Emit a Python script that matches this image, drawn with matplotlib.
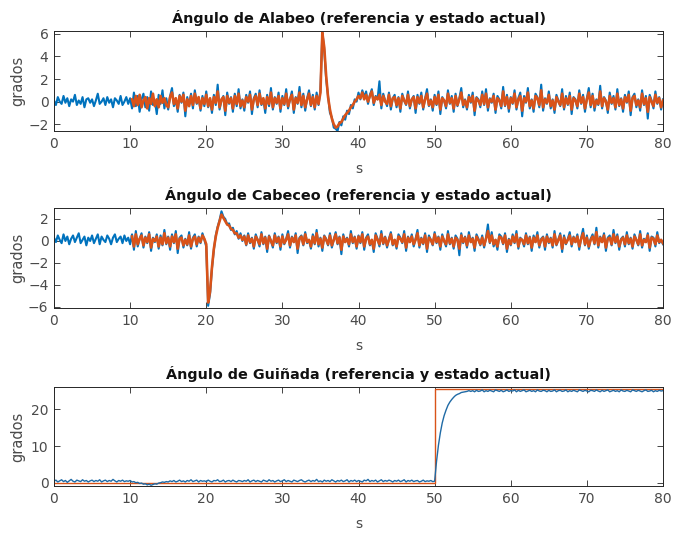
import numpy as np
import matplotlib
matplotlib.use("Agg")
import matplotlib.pyplot as plt

plt.rcParams['font.family'] = ['DejaVu Sans']

DT = 0.25  # sample period of the logged signals (s)

# ---- Roll (alabeo) -------------------------------------------------------
roll_state_t0 = 0.0
roll_state = [
    0.1, -0.3, 0.4, 0.0, -0.2, 0.5, -0.1, 0.3, -0.4, 0.2, 0.0, 0.6, -0.3, 0.1, -0.2, 0.4, -0.5, 0.2, 0.3, -0.1,
    0.2, -0.4, 0.1, 0.7, -0.2, 0.0, 0.3, -0.3, 0.4, -0.1, 0.2, -0.5, 0.3, 0.1, -0.2, 0.5, -0.3, 0.0, 0.4, -0.2,
    0.3, -0.6, 0.8, -0.4, 0.5, -0.9, 0.2, 0.7, -0.5, 0.4, -0.8, 0.9, -0.3, 0.1, -1.1, 0.6, -0.2, 1.0, -0.6, 0.3,
    -0.7, 0.5, 1.2, -0.4, 0.2, -0.9, 0.6, -0.1, 0.8, -1.3, 0.4, -0.3, 0.7, -0.6, 1.0, -0.2, 0.3, -0.8, 0.5, -0.4,
    0.9, -0.5, 0.2, -1.0, 0.6, -0.3, 1.5, -0.7, 0.1, 0.5, -1.2, 0.8, -0.2, 0.4, -0.9, 0.7, -0.4, 1.1, -0.6, 0.2,
    -0.8, 0.6, -0.1, 0.9, -1.1, 0.3, 0.7, -0.5, 1.0, -0.3, 0.2, -1.0, 0.6, -0.4, 1.2, -0.7, 0.4, -0.2, 0.8, -0.9,
    0.5, -0.3, 1.1, -0.6, 0.2, 0.9, -1.0, 0.4, -0.2, 1.3, -0.5, 0.7, -0.8, 0.3, 1.0, -0.4, 0.6, -0.7, 0.8, -0.3,
    1.0, 6.2, 4.6, 2.0, 0.5, -1.0, -1.4, -2.3, -2.4, -2.6, -1.8, -2.1, -1.3, -1.6, -0.8, -1.1, -0.3, -0.6, 0.2, 0.0,
    0.8, 0.2, 1.0, 0.4, 0.9, -0.2, 0.6, 1.1, -0.3, 0.5, 0.2, 1.8, -0.6, 0.7, 0.1, -0.4, 0.8, -0.7, 0.3, 0.6,
    -0.5, 0.4, -0.9, 0.7, 0.1, -0.3, 0.9, -0.6, 0.2, 0.5, -1.0, 0.6, -0.2, 0.8, -0.7, 0.3, 1.1, -0.4, 0.2, -0.8,
    0.6, -0.3, 0.9, -1.1, 0.4, 0.1, -0.6, 1.0, -0.2, 0.5, -0.9, 0.7, -0.4, 0.3, 1.2, -0.5, 0.2, -0.7, 0.6, -0.1,
    0.8, -1.2, 0.4, 0.2, -0.5, 0.9, -0.3, 1.1, -0.8, 0.3, -0.1, 0.7, -1.0, 0.5, 0.2, -0.6, 1.3, -0.4, 0.6, -0.9,
    0.4, -0.2, 1.0, -0.7, 0.3, 0.8, -1.3, 0.5, -0.1, 1.2, -0.6, 0.2, -0.9, 0.7, 0.4, -0.5, 1.5, -0.8, 0.3, -0.2,
    0.9, -0.6, 0.2, -1.0, 0.6, 0.1, -0.4, 1.1, -0.7, 0.5, -0.3, 0.8, -1.1, 0.4, 0.2, -0.6, 1.0, -0.2, 0.6, -0.9,
    0.3, 1.2, -0.5, 0.7, -0.8, 0.2, -0.3, 1.4, -0.6, 0.4, 0.1, -1.0, 0.8, -0.2, 0.5, -0.7, 1.1, -0.4, 0.3, -0.9,
    0.6, -0.1, 0.9, -1.2, 0.4, 0.7, -0.5, 0.2, -0.8, 1.0, -0.3, 0.5, -1.5, 0.6, 0.1, -0.6, 0.9, -0.2, 0.4, -0.7,
    0.2,
]
roll_ref_t0 = 10.25
roll_ref = [
    0.2, -0.4, 0.5, -0.3, 0.6, -0.5, 0.1, 0.4, -0.6, 0.3, -0.2, 0.7, -0.4, 0.2, -0.5, 0.5, -0.1, 0.3, -0.3,
    -0.5, 0.4, 0.8, -0.2, 0.3, -0.6, 0.5, 0.0, 0.6, -0.8, 0.2, -0.4, 0.5, -0.3, 0.7, -0.1, 0.4, -0.6, 0.3, -0.2,
    0.6, -0.4, 0.3, -0.7, 0.4, -0.1, 0.9, -0.5, 0.2, 0.4, -0.8, 0.5, -0.1, 0.3, -0.6, 0.5, -0.2, 0.7, -0.4, 0.1,
    -0.5, 0.4, 0.0, 0.6, -0.7, 0.2, 0.5, -0.3, 0.7, -0.2, 0.3, -0.6, 0.4, -0.2, 0.8, -0.5, 0.3, -0.1, 0.5, -0.6,
    0.3, -0.2, 0.7, -0.4, 0.2, 0.6, -0.7, 0.3, -0.1, 0.8, -0.3, 0.5, -0.5, 0.2, 0.7, -0.3, 0.4, -0.5, 0.5, -0.2,
    0.8, 6.1, 4.8, 2.3, 0.4, -0.7, -1.5, -2.0, -2.3, -2.2, -1.9, -1.8, -1.5, -1.2, -1.0, -0.8, -0.5, -0.3, 0.0, 0.2,
    0.5, 0.3, 0.8, 0.2, 0.6, 0.0, 0.5, 0.9, -0.1, 0.4, 0.2, 0.6, -0.3, 0.5, 0.0, -0.2, 0.6, -0.4, 0.3, 0.4,
    -0.3, 0.3, -0.6, 0.5, 0.1, -0.2, 0.6, -0.4, 0.2, 0.4, -0.6, 0.4, -0.1, 0.5, -0.5, 0.2, 0.7, -0.3, 0.1, -0.5,
    0.4, -0.2, 0.6, -0.7, 0.3, 0.1, -0.4, 0.7, -0.1, 0.3, -0.6, 0.5, -0.3, 0.2, 0.8, -0.3, 0.1, -0.5, 0.4, 0.0,
    0.5, -0.8, 0.3, 0.1, -0.3, 0.6, -0.2, 0.7, -0.5, 0.2, 0.0, 0.5, -0.7, 0.3, 0.1, -0.4, 0.9, -0.3, 0.4, -0.6,
    0.3, -0.1, 0.7, -0.5, 0.2, 0.5, -0.8, 0.3, 0.0, 0.8, -0.4, 0.1, -0.6, 0.5, 0.3, -0.3, 1.0, -0.5, 0.2, -0.1,
    0.6, -0.4, 0.1, -0.7, 0.4, 0.0, -0.3, 0.7, -0.5, 0.3, -0.2, 0.5, -0.7, 0.3, 0.1, -0.4, 0.7, -0.1, 0.4, -0.6,
    0.2, 0.8, -0.3, 0.5, -0.5, 0.1, -0.2, 0.9, -0.4, 0.3, 0.0, -0.7, 0.5, -0.1, 0.3, -0.5, 0.7, -0.3, 0.2, -0.6,
    0.4, 0.0, 0.6, -0.8, 0.3, 0.5, -0.3, 0.1, -0.5, 0.7, -0.2, 0.3, -0.9, 0.4, 0.0, -0.4, 0.6, -0.1, 0.3, -0.5,
    0.1,
]

# ---- Pitch (cabeceo) -----------------------------------------------------
pitch_state_t0 = 0.0
pitch_state = [
    0.3, -0.1, 0.5, 0.1, -0.2, 0.6, 0.0, 0.4, -0.3, 0.2, 0.5, -0.1, 0.3, 0.7, -0.2, 0.1, 0.4, -0.4, 0.3, 0.0,
    0.5, -0.2, 0.2, 0.6, -0.3, 0.4, 0.1, -0.1, 0.5, 0.2, -0.3, 0.3, 0.6, -0.1, 0.2, 0.4, -0.2, 0.5, 0.0, 0.3,
    -0.3, 0.6, -0.8, 0.9, -0.5, 0.2, 0.7, -0.6, 0.4, -0.2, 0.8, -0.9, 0.3, -0.1, 0.6, -0.7, 0.5, -0.4, 1.0, -0.3,
    0.4, -0.8, 0.6, -0.2, 0.9, -1.1, 0.3, 0.5, -0.6, 0.2, -0.4, 0.8, -0.7, 0.3, 0.6, -0.5, 0.4, -0.2, 0.7, 0.1,
    -0.5, -5.9, -4.8, -2.5, -0.8, 0.5, 1.3, 1.9, 2.7, 2.2, 2.0, 1.5, 1.6, 1.0, 1.2, 0.6, 0.9, 0.2, 0.7, 0.0,
    0.5, -0.4, 0.7, -0.2, 0.3, -0.7, 0.6, 0.1, -0.5, 0.8, -0.3, 0.4, -1.0, 0.5, 0.0, -0.6, 0.7, -0.2, 0.4, -0.8,
    0.6, -0.3, 0.2, 0.9, -0.6, 0.4, -0.1, 0.7, -1.1, 0.3, 0.5, -0.4, 0.8, -0.2, 0.1, -0.7, 0.6, -0.3, 1.0, -0.5,
    0.3, -0.9, 0.5, 0.2, -0.4, 0.7, -0.6, 0.1, 0.8, -0.3, 0.4, -1.2, 0.6, -0.1, 0.3, -0.5, 0.9, -0.2, 0.4, -0.7,
    0.5, -0.2, 0.8, -0.8, 0.3, 0.6, -0.4, 0.1, -1.0, 0.7, 0.2, -0.5, 0.9, -0.3, 0.4, -0.6, 0.2, 0.8, -0.4, 0.1,
    -0.7, 0.6, 0.3, -0.2, 0.9, -0.9, 0.4, -0.1, 0.6, -0.5, 0.2, 1.0, -0.6, 0.3, -0.3, 0.7, -1.0, 0.5, 0.1, -0.4,
    0.8, -0.2, 0.4, -0.8, 0.6, 0.0, -0.5, 0.9, -0.3, 0.3, -0.7, 0.5, 0.2, -1.3, 0.7, -0.2, 0.4, -0.6, 0.8, -0.1,
    0.3, -0.9, 0.6, 0.2, -0.4, 0.5, -0.6, 0.3, 1.5, -0.2, 0.8, -0.5, 0.1, -0.8, 0.6, 0.4, -0.3, 0.7, -1.0, 0.2,
    -0.4, 0.6, -0.2, 0.9, -0.7, 0.3, 0.1, -0.5, 0.7, -0.3, 0.4, -0.9, 0.5, -0.1, 0.8, -0.6, 0.2, 0.4, -0.8, 0.6,
    -0.2, 0.3, -0.6, 0.9, -0.4, 0.1, 0.7, -1.0, 0.5, -0.3, 0.2, 0.8, -0.5, 0.4, -0.1, 0.6, -0.8, 0.3, 1.1, -0.4,
    0.5, -0.7, 0.2, 0.6, -0.3, 1.2, -0.6, 0.4, -0.1, 0.7, -0.9, 0.3, 0.5, -0.4, 1.0, -0.2, 0.6, -0.8, 0.2, 0.4,
    -0.5, 0.8, -0.3, 0.3, -0.7, 0.6, 0.1, -0.4, 0.9, -0.6, 0.2, -0.1, 0.7, -0.9, 0.4, 0.3, -0.5, 0.8, -0.2, 0.1,
    -0.3,
]
pitch_ref_t0 = 10.25
pitch_ref = [
    0.4, -0.5, 0.6, -0.3, 0.2, 0.5, -0.4, 0.3, -0.1, 0.6, -0.6, 0.2, 0.0, 0.4, -0.5, 0.3, -0.3, 0.7, -0.2,
    0.3, -0.5, 0.4, -0.1, 0.6, -0.7, 0.2, 0.3, -0.4, 0.1, -0.3, 0.5, -0.5, 0.2, 0.4, -0.3, 0.3, -0.1, 0.5, 0.2,
    -0.3, -5.6, -4.6, -2.4, -0.7, 0.4, 1.2, 1.8, 2.4, 2.1, 1.8, 1.5, 1.4, 1.1, 1.0, 0.7, 0.7, 0.3, 0.5, 0.1,
    0.4, -0.3, 0.5, -0.1, 0.2, -0.5, 0.4, 0.1, -0.3, 0.6, -0.2, 0.3, -0.7, 0.4, 0.0, -0.4, 0.5, -0.1, 0.3, -0.5,
    0.4, -0.2, 0.1, 0.6, -0.4, 0.3, -0.1, 0.5, -0.7, 0.2, 0.4, -0.3, 0.6, -0.1, 0.1, -0.5, 0.4, -0.2, 0.7, -0.3,
    0.2, -0.6, 0.4, 0.1, -0.3, 0.5, -0.4, 0.1, 0.6, -0.2, 0.3, -0.8, 0.4, -0.1, 0.2, -0.3, 0.6, -0.1, 0.3, -0.5,
    0.4, -0.1, 0.6, -0.5, 0.2, 0.4, -0.3, 0.1, -0.7, 0.5, 0.1, -0.3, 0.6, -0.2, 0.3, -0.4, 0.1, 0.6, -0.3, 0.1,
    -0.5, 0.4, 0.2, -0.1, 0.6, -0.6, 0.3, -0.1, 0.4, -0.3, 0.1, 0.7, -0.4, 0.2, -0.2, 0.5, -0.7, 0.3, 0.1, -0.3,
    0.6, -0.1, 0.3, -0.5, 0.4, 0.0, -0.3, 0.6, -0.2, 0.2, -0.5, 0.3, 0.1, -0.7, 0.5, -0.1, 0.3, -0.4, 0.5, -0.1,
    0.2, -0.6, 0.4, 0.1, -0.3, 0.3, -0.4, 0.2, 0.9, -0.1, 0.5, -0.3, 0.1, -0.5, 0.4, 0.3, -0.2, 0.5, -0.7, 0.1,
    -0.3, 0.4, -0.1, 0.6, -0.5, 0.2, 0.1, -0.3, 0.5, -0.2, 0.3, -0.6, 0.3, -0.1, 0.5, -0.4, 0.1, 0.3, -0.5, 0.4,
    -0.1, 0.2, -0.4, 0.6, -0.3, 0.1, 0.5, -0.7, 0.3, -0.2, 0.1, 0.5, -0.3, 0.3, -0.1, 0.4, -0.5, 0.2, 0.7, -0.3,
    0.3, -0.5, 0.1, 0.4, -0.2, 0.8, -0.4, 0.3, -0.1, 0.5, -0.6, 0.2, 0.3, -0.3, 0.6, -0.1, 0.4, -0.5, 0.1, 0.3,
    -0.3, 0.5, -0.2, 0.2, -0.5, 0.4, 0.1, -0.3, 0.6, -0.4, 0.1, -0.1, 0.5, -0.6, 0.3, 0.2, -0.3, 0.5, -0.1, 0.1,
    -0.2,
]

# ---- Yaw (guiñada) -------------------------------------------------------
yaw_state_t0 = 0.0
yaw_state = [
    0.4, 0.7, 0.2, 0.5, 0.8, 0.3, 0.6, 0.1, 0.5, 0.9, 0.4, 0.2, 0.7, 0.5, 0.3, 0.8, 0.4, 0.6, 0.2, 0.5,
    0.7, 0.3, 0.6, 0.4, 0.8, 0.2, 0.5, 0.7, 0.3, 0.6, 0.4, 0.9, 0.5, 0.2, 0.6, 0.4, 0.7, 0.3, 0.5, 0.4,
    0.6, 0.2, 0.3, 0.0, 0.1, -0.2, -0.1, -0.4, -0.3, -0.6, -0.4, -0.7, -0.5, -0.3, -0.4, -0.1, 0.0, 0.2, 0.1, 0.3,
    0.2, 0.5, 0.3, 0.6, 0.2, 0.4, 0.7, 0.3, 0.5, 0.2, 0.6, 0.4, 0.8, 0.3, 0.5, 0.7, 0.2, 0.6, 0.4, 0.5,
    0.3, 0.7, 0.4, 0.2, 0.6, 0.5, 0.8, 0.3, 0.4, 0.7, 0.2, 0.5, 0.6, 0.3, 0.7, 0.4, 0.2, 0.6, 0.5, 0.3,
    0.6, 0.4, 0.8, 0.2, 0.5, 0.7, 0.3, 0.6, 0.4, 0.2, 0.7, 0.5, 0.3, 0.8, 0.4, 0.6, 0.2, 0.5, 0.7, 0.3,
    0.5, 0.8, 0.3, 0.6, 0.4, 0.2, 0.7, 0.5, 0.3, 0.6, 0.8, 0.4, 0.2, 0.5, 0.7, 0.3, 0.6, 0.4, 0.9, 0.3,
    0.5, 0.2, 0.7, 0.4, 0.6, 0.3, 0.8, 0.5, 0.2, 0.6, 0.4, 0.7, 0.3, 0.5, 0.8, 0.2, 0.6, 0.4, 0.7, 0.3,
    0.6, 0.4, 0.2, 0.7, 0.5, 0.9, 0.3, 0.6, 0.4, 0.7, 0.2, 0.5, 0.8, 0.3, 0.6, 0.4, 0.7, 0.5, 0.2, 0.6,
    0.4, 0.7, 0.3, 0.5, 0.8, 0.2, 0.6, 0.4, 0.7, 0.3, 0.5, 0.6, 0.2, 0.4, 0.7, 0.3, 0.5, 0.4, 0.6, 0.3,
    0.4, 5.8, 10.2, 13.6, 16.3, 18.3, 19.8, 21.1, 22.0, 22.7, 23.3, 23.8, 24.1, 24.3, 24.6, 24.7, 24.8, 24.9, 25.1, 24.9,
    25.1, 24.8, 25.2, 24.9, 25.0, 25.3, 24.8, 25.1, 24.9, 25.2, 25.0, 24.8, 25.3, 25.1, 24.9, 25.2, 24.8, 25.0, 25.3, 24.9,
    25.1, 25.0, 25.3, 24.8, 25.2, 24.9, 25.1, 25.3, 24.8, 25.0, 25.2, 24.9, 25.1, 24.8, 25.3, 25.0, 24.9, 25.2, 25.1, 24.8,
    25.2, 24.9, 25.0, 25.3, 24.8, 25.1, 25.2, 24.9, 25.0, 25.3, 24.8, 25.1, 24.9, 25.2, 25.0, 24.8, 25.3, 25.1, 24.9, 25.2,
    25.0, 24.8, 25.2, 25.1, 24.9, 25.3, 25.0, 24.8, 25.2, 24.9, 25.1, 25.3, 24.8, 25.0, 25.2, 24.9, 25.1, 24.8, 25.3, 25.0,
    24.9, 25.2, 25.0, 24.8, 25.3, 25.1, 24.9, 25.2, 25.0, 24.8, 25.1, 25.3, 24.9, 25.0, 25.2, 24.8, 25.1, 24.9, 25.2, 25.0,
    25.1,
]
# step reference: 0 until 50 s, then 25.5 degrees
yaw_ref_t = [0.0, 50.0, 50.0, 80.0]
yaw_ref = [0.0, 0.0, 25.5, 25.5]

titles = [
    "Ángulo de Alabeo (referencia y estado actual)",
    "Ángulo de Cabeceo (referencia y estado actual)",
    "Ángulo de Guiñada (referencia y estado actual)",
]
x_ticks = [0, 10, 20, 30, 40, 50, 60, 70, 80]
roll_yticks = [-2, 0, 2, 4, 6]
pitch_yticks = [-6, -4, -2, 0, 2]
yaw_yticks = [0, 10, 20]

BLUE = "#0072BD"
ORANGE = "#D95319"
AXCOL = "#262626"
TXTCOL = "#4a4a4a"


def times(t0, vals):
    return t0 + DT * np.arange(len(vals))


fig = plt.figure(figsize=(6.75, 5.36), dpi=100)
W, H = 675.0, 536.0
left, right = 54, 663
boxes = [(31, 131), (208, 308), (387, 486)]
ylims = [(-2.6, 6.25), (-6.1, 3.0), (-0.9, 26.1)]
yticks_all = [roll_yticks, pitch_yticks, yaw_yticks]

axes = []
for (top, bot) in boxes:
    ax = fig.add_axes([left / W, 1 - bot / H, (right - left) / W, (bot - top) / H])
    axes.append(ax)

# roll
ax = axes[0]
ax.plot(times(roll_state_t0, roll_state), roll_state, color=BLUE, lw=1.5)
ax.plot(times(roll_ref_t0, roll_ref), roll_ref, color=ORANGE, lw=1.9)
# pitch
ax = axes[1]
ax.plot(times(pitch_state_t0, pitch_state), pitch_state, color=BLUE, lw=1.5)
ax.plot(times(pitch_ref_t0, pitch_ref), pitch_ref, color=ORANGE, lw=1.9)
# yaw
ax = axes[2]
ax.plot(yaw_ref_t, yaw_ref, color=ORANGE, lw=1.0)
ax.plot(times(yaw_state_t0, yaw_state), yaw_state, color="#1f6aa5", lw=1.0)

for ax, title, yl, yt in zip(axes, titles, ylims, yticks_all):
    ax.set_xlim(0, 80)
    ax.set_ylim(*yl)
    ax.set_xticks(x_ticks)
    ax.set_yticks(yt)
    ax.set_title(title, fontsize=10.4, fontweight="bold", color="#111111", pad=6)
    ax.set_xlabel("s", fontsize=10, color=TXTCOL, labelpad=8)
    ax.set_ylabel("grados", fontsize=10.5, color=TXTCOL)
    ax.yaxis.set_label_coords(-0.047, 0.5)
    ax.tick_params(direction="in", length=4, width=0.6, top=True, right=True,
                   labelsize=10, colors=AXCOL, labelcolor=TXTCOL, pad=4)
    for sp in ax.spines.values():
        sp.set_color(AXCOL)
        sp.set_linewidth(0.7)

fig.savefig("out.png", dpi=100, facecolor="white")
